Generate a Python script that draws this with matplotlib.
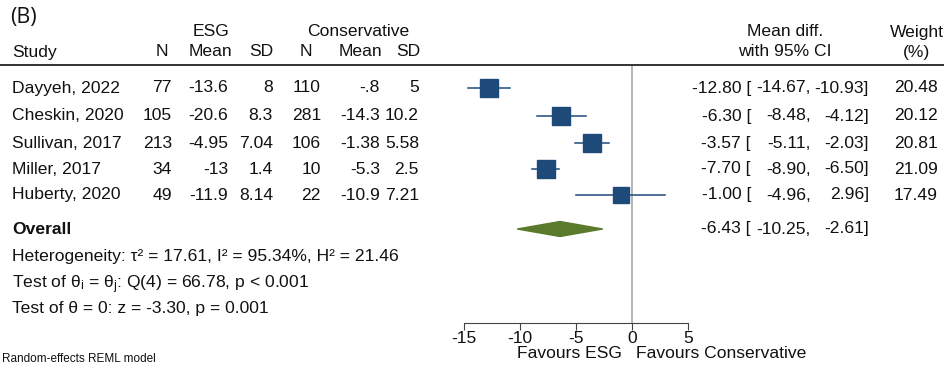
import numpy as np
import matplotlib.pyplot as plt
from matplotlib.patches import Polygon

plt.rcParams['font.family'] = ['Liberation Sans', 'DejaVu Sans']
plt.rcParams['mathtext.fontset'] = 'custom'
plt.rcParams['mathtext.rm'] = 'Liberation Sans'
plt.rcParams['mathtext.it'] = 'Liberation Sans:italic'
plt.rcParams['axes.unicode_minus'] = False

# study level data
studies = ['Dayyeh, 2022', 'Cheskin, 2020', 'Sullivan, 2017', 'Miller, 2017', 'Huberty, 2020']
esg_n = ['77', '105', '213', '34', '49']
esg_mean = ['-13.6', '-20.6', '-4.95', '-13', '-11.9']
esg_sd = ['8', '8.3', '7.04', '1.4', '8.14']
con_n = ['110', '281', '106', '10', '22']
con_mean = ['-.8', '-14.3', '-1.38', '-5.3', '-10.9']
con_sd = ['5', '10.2', '5.58', '2.5', '7.21']
mean_diff = np.array([-12.80, -6.30, -3.57, -7.70, -1.00])
ci_low = np.array([-14.67, -8.48, -5.11, -8.90, -4.96])
ci_high = np.array([-10.93, -4.12, -2.03, -6.50, 2.96])
weight = np.array([20.48, 20.12, 20.81, 21.09, 17.49])

# pooled estimate
overall_md = -6.43
overall_lo = -10.25
overall_hi = -2.61

W, H = 945, 365
FS = 12.6
fig = plt.figure(figsize=(W / 100, H / 100), dpi=100)

def txt(x, y, s, ha='left', **kw):
    fig.text(x / W, 1 - y / H, s, ha=ha, va='center', fontsize=kw.pop('fontsize', FS),
             color=kw.pop('color', '#111111'), **kw)

# plot area: x in data units, y in pixel rows
ax = fig.add_axes([464 / W, 0, 224 / W, 1])
ax.set_xlim(-15, 5)
ax.set_ylim(H, 0)
ax.patch.set_alpha(0)
for s in ['top', 'left', 'right']:
    ax.spines[s].set_visible(False)
ax.spines['bottom'].set_position(('data', 323))
ax.spines['bottom'].set_color('#444444')
ax.set_yticks([])
ax.set_xticks([-15, -10, -5, 0, 5])
ax.tick_params(axis='x', length=5, color='#444444', labelsize=FS, labelcolor='#111111', pad=1)

row_y = [88, 116, 143, 169, 195]
blue = '#1e4a7a'
ax.plot([0, 0], [66, 323], color='#a0a0a0', lw=1.1, zorder=1)
for i in range(len(studies)):
    y = row_y[i]
    ax.plot([ci_low[i], ci_high[i]], [y, y], color=blue, lw=1.1, zorder=2)
    ax.plot(mean_diff[i], y, 's', color=blue, ms=np.sqrt(weight[i]) * 2.85, zorder=3)

oy = 229
diamond = Polygon([[overall_lo, oy], [overall_md, oy - 7.5], [overall_hi, oy], [overall_md, oy + 7.5]],
                  closed=True, color='#5b7a2c', zorder=3)
ax.add_patch(diamond)

# header
txt(10, 18, '(B)', fontsize=15.5, family='Open Sans')
txt(211, 32, 'ESG', ha='center')
txt(358, 32, 'Conservative', ha='center')
txt(12, 52, 'Study')
for x, s in [(162, 'N'), (210, 'Mean'), (261, 'SD'), (306, 'N'), (360, 'Mean'), (408, 'SD')]:
    txt(x, 52, s, ha='center')
txt(785, 32, 'Mean diff.', ha='center')
txt(785, 52, 'with 95% CI', ha='center')
txt(917, 32, 'Weight', ha='center')
txt(917, 52, '(%)', ha='center')
fig.add_artist(plt.Line2D([0, 1], [1 - 65 / H, 1 - 65 / H], color='#333333', lw=1.4))

# table rows
for i in range(len(studies)):
    y = row_y[i]
    txt(12, y, studies[i])
    txt(172, y, esg_n[i], ha='right')
    txt(228, y, esg_mean[i], ha='right')
    txt(273, y, esg_sd[i], ha='right')
    txt(321, y, con_n[i], ha='right')
    txt(380, y, con_mean[i], ha='right')
    txt(419, y, con_sd[i], ha='right')
    txt(751, y, '%.2f [' % mean_diff[i], ha='right')
    txt(811, y, '%.2f,' % ci_low[i], ha='right')
    txt(869, y, '%.2f]' % ci_high[i], ha='right')
    txt(938, y, '%.2f' % weight[i], ha='right')

txt(12, oy, 'Overall', fontweight='bold')
txt(751, oy, '%.2f [' % overall_md, ha='right')
txt(811, oy, '%.2f,' % overall_lo, ha='right')
txt(869, oy, '%.2f]' % overall_hi, ha='right')

txt(12, 256, 'Heterogeneity: τ² = 17.61, I² = 95.34%, H² = 21.46')
txt(12, 285, r'Test of θ$_\mathrm{i}$ = θ$_\mathrm{j}$: Q(4) = 66.78, p < 0.001')
txt(12, 309, 'Test of θ = 0: z = -3.30, p = 0.001')
txt(2, 359, 'Random-effects REML model', fontsize=8.5)

txt(622, 353, 'Favours ESG', ha='right')
txt(636, 353, 'Favours Conservative')

fig.savefig('out.png', dpi=100)
